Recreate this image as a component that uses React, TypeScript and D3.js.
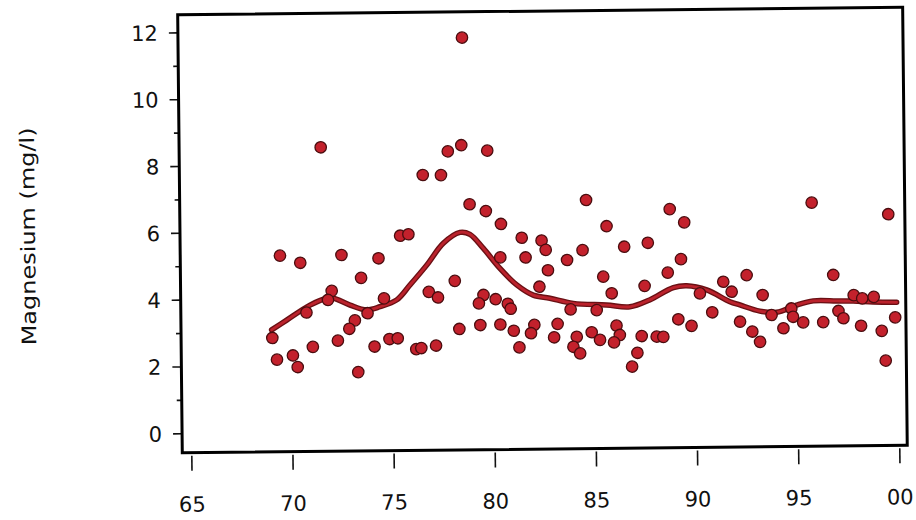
import React from "react";
import * as d3 from "d3";

// Observations: year (19xx) and magnesium (mg/l)
const years = [
  69.46, 70.46, 72.5, 73.46, 72.0, 71.81, 70.74, 69.04, 73.13, 72.85, 72.28, 71.04, 69.26, 70.05, 70.28, 73.27,
  71.53, 77.81, 78.48, 79.76, 76.56, 77.46, 78.57, 78.86, 79.66, 80.4,
  75.41, 75.82, 81.42, 82.4, 82.6, 74.33, 81.6, 80.35, 82.7, 78.09, 82.27, 76.8, 77.25, 74.58, 73.76,
  79.5, 79.27, 80.1, 80.7, 80.84, 78.29, 79.33, 80.32, 80.98, 82.0, 81.83, 81.25, 74.09, 74.83, 75.24,
  76.15, 76.4, 77.13,
  84.62, 85.62, 89.46, 88.75, 84.42, 86.48, 87.65, 83.65, 89.28, 85.43, 88.62, 85.84, 87.47, 91.36, 90.2,
  83.8, 85.09, 90.8, 89.12, 89.77, 83.15, 82.97, 84.09, 83.92, 84.25, 84.83, 85.24, 86.06, 86.22, 85.93,
  87.3, 88.04, 88.37, 87.08, 86.81,
  95.77, 99.55, 92.52, 91.77, 93.3, 96.8, 92.17, 92.77, 93.15, 93.73, 94.71, 94.79, 94.31, 95.29, 96.28,
  97.04, 97.28, 97.8, 98.22, 98.79, 98.15, 99.17, 99.84, 99.35,
];
const magnesium = [
  5.3, 5.08, 5.3, 4.61, 4.23, 3.96, 3.59, 2.84, 3.34, 3.09, 2.74, 2.56, 2.19, 2.31, 1.96, 1.79,
  8.53, 8.37, 8.55, 8.38, 7.67, 7.66, 11.77, 6.78, 6.57, 6.18,
  5.86, 5.9, 5.76, 5.67, 5.39, 5.19, 5.17, 5.18, 4.78, 4.49, 4.29, 4.17, 4.0, 3.99, 3.55,
  4.06, 3.81, 3.93, 3.79, 3.64, 3.05, 3.16, 3.17, 2.98, 3.15, 2.9, 2.48, 2.55, 2.77, 2.79,
  2.46, 2.49, 2.56,
  6.87, 6.08, 6.17, 6.57, 5.37, 5.46, 5.57, 5.08, 5.07, 4.57, 4.67, 4.07, 4.28, 4.38, 4.04,
  3.6, 3.57, 3.47, 3.27, 3.07, 3.17, 2.77, 2.78, 2.48, 2.28, 2.91, 2.68, 3.1, 2.82, 2.6,
  2.78, 2.76, 2.75, 2.28, 1.87,
  6.72, 6.35, 4.57, 4.08, 3.97, 4.55, 3.18, 2.88, 2.57, 3.37, 3.56, 3.31, 2.97, 3.14, 3.14,
  3.47, 3.25, 3.94, 3.84, 3.88, 3.02, 2.86, 3.26, 1.97,
];

// Smoothed trend line
const smoothYears = [
  69.01, 69.76, 70.92, 71.75, 72.08, 72.9, 73.72, 74.38, 75.21, 75.87, 76.71, 77.54, 78.37, 78.86, 79.51,
  80.33, 81.15, 81.96, 82.78, 83.93, 85.58, 86.73, 87.71, 88.89, 89.55, 90.54, 91.68, 92.17, 93.15, 93.98,
  94.97, 95.8, 96.95, 97.77, 98.76, 99.92,
];
const smoothValues = [
  3.08, 3.37, 3.81, 4.01, 4.01, 3.8, 3.65, 3.74, 3.94, 4.38, 4.97, 5.62, 5.94, 5.88, 5.46,
  4.85, 4.35, 4.04, 3.94, 3.78, 3.72, 3.66, 3.86, 4.22, 4.27, 4.14, 3.78, 3.68, 3.49, 3.45,
  3.66, 3.78, 3.77, 3.76, 3.73, 3.71,
];

const yTicks = [0, 1, 2, 3, 4, 5, 6, 7, 8, 9, 10, 11, 12];
const xTicks = [65, 70, 75, 80, 85, 90, 95, 100];
const xTickLabels = ["65", "70", "75", "80", "85", "90", "95", "00"];
const yTitle = "Magnesium (mg/l)";

const W = 916;
const H = 520;
const L = 180, R = 905, T = 11, B = 449;

export default function App() {
  const x = d3.scaleLinear().domain([64.53, 100.37]).range([L, R]);
  const y = d3.scaleLinear().domain([-0.57, 12.54]).range([B, T]);
  const line = d3
    .line<number>()
    .x((_, i) => x(smoothYears[i]))
    .y((d) => y(d))
    .curve(d3.curveCatmullRom.alpha(0.5));
  const path = line(smoothValues) || "";
  const font = "'DejaVu Sans', sans-serif";

  return (
    <svg
      width={W}
      height={H}
      style={{ position: "absolute", left: 0, top: 0, background: "#fff" }}
    >
      <rect x={0} y={0} width={W} height={H} fill="#fff" />
      <g transform="rotate(-0.6, 545, 233)">
        {/* y ticks */}
        {yTicks.map((t) => (
          <line
            key={"yt" + t}
            x1={L - (t % 2 === 0 ? 9 : 5)}
            x2={L}
            y1={y(t)}
            y2={y(t)}
            stroke="#111"
            strokeWidth={1.6}
          />
        ))}
        {yTicks
          .filter((t) => t % 2 === 0)
          .map((t) => (
            <text
              key={"yl" + t}
              x={L - 20}
              y={y(t)}
              dy="0.36em"
              textAnchor="end"
              fontFamily={font}
              fontSize={21}
              fill="#111"
            >
              {t}
            </text>
          ))}
        {/* x ticks */}
        {xTicks.map((t, i) => (
          <g key={"xt" + t}>
            <line x1={x(t)} x2={x(t)} y1={B + 3} y2={B + 18} stroke="#111" strokeWidth={1.6} />
            <text
              x={x(t)}
              y={508}
              textAnchor="middle"
              fontFamily={font}
              fontSize={21}
              fill="#111"
            >
              {xTickLabels[i]}
            </text>
          </g>
        ))}
        {/* y title */}
        <text
          transform={`translate(35, 231) rotate(-90)`}
          textAnchor="middle"
          fontFamily={font}
          fontSize={20}
          fill="#111"
          textLength={218}
          lengthAdjust="spacingAndGlyphs"
        >
          {yTitle}
        </text>
        {/* smooth line */}
        <path d={path} fill="none" stroke="#6a1014" strokeWidth={5.5} strokeLinecap="round" />
        <path d={path} fill="none" stroke="#bb222c" strokeWidth={2.8} strokeLinecap="round" />
        {/* points */}
        {years.map((yr, i) => (
          <circle
            key={"p" + i}
            cx={x(yr)}
            cy={y(magnesium[i])}
            r={5.7}
            fill="#c3212c"
            stroke="#4a0d0f"
            strokeWidth={1.3}
          />
        ))}
        {/* frame */}
        <rect x={L} y={T} width={R - L} height={B - T} fill="none" stroke="#000" strokeWidth={3} />
      </g>
    </svg>
  );
}
